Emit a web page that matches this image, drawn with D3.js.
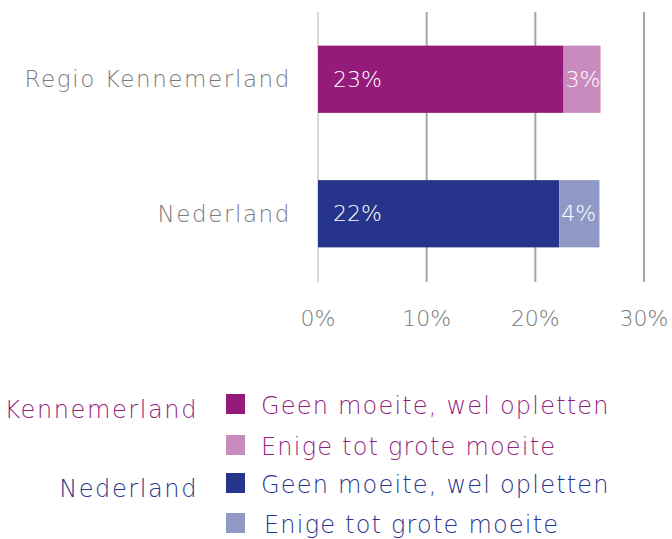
<!DOCTYPE html>
<html>
<head>
<meta charset="utf-8">
<script src="https://cdn.jsdelivr.net/npm/d3@7"></script>
<style>
  body { margin: 0; background: #fff; }
  svg text { font-family: "DejaVu Sans", sans-serif; font-weight: 200; }
</style>
</head>
<body>
<div id="chart"></div>
<script>
const categories = ["Regio Kennemerland", "Nederland"];
const geenMoeite = [22.6, 22.2];
const enigeMoeite = [3.4, 3.7];
const xTicks = [0, 10, 20, 30];

const legendGroups = ["Kennemerland", "Nederland"];
const legendItems = ["Geen moeite, wel opletten", "Enige tot grote moeite"];

const width = 672, height = 539;
const colors = [["#951b7b", "#c98bbd"], ["#27348b", "#9099c6"]];
const textColors = ["#931f7d", "#27348b"];

const svg = d3.select("#chart")
    .append("svg")
    .attr("width", width)
    .attr("height", height);

const x = d3.scaleLinear().domain([0, 30]).range([318, 644]);
const y = d3.scaleBand().domain(categories).range([12, 281])
    .paddingInner(0.5).paddingOuter(0.25);

// gridlines
svg.append("g").selectAll("line")
    .data(xTicks)
    .enter().append("line")
    .attr("x1", d => x(d)).attr("x2", d => x(d))
    .attr("y1", 12).attr("y2", 282)
    .attr("stroke", d => d == 0 ? "#d9d9d9" : "#a6a6a6")
    .attr("stroke-width", 2);

// tick labels
svg.append("g").selectAll("text")
    .data(xTicks)
    .enter().append("text")
    .attr("x", d => x(d))
    .attr("y", 326)
    .attr("text-anchor", "middle")
    .style("font-size", "22px")
    .style("fill", "#7a7a7a")
    .text(d => d + "%");

// category labels
svg.append("g").selectAll("text")
    .data(categories)
    .enter().append("text")
    .attr("x", 291)
    .attr("y", d => y(d) + y.bandwidth() / 2)
    .attr("dy", "0.35em")
    .attr("text-anchor", "end")
    .style("font-size", "23px")
    .style("letter-spacing", "1.6px")
    .style("fill", "#7a7a7a")
    .text(d => d);

// stacked bars
categories.forEach((c, i) => {
    const segs = [
        { x0: 0, x1: geenMoeite[i], color: colors[i][0], label: Math.round(geenMoeite[i]) + "%", pad: 15 },
        { x0: geenMoeite[i], x1: geenMoeite[i] + enigeMoeite[i], color: colors[i][1], label: Math.round(enigeMoeite[i]) + "%", pad: 2 }
    ];
    const g = svg.append("g");
    g.selectAll("rect")
        .data(segs)
        .enter().append("rect")
        .attr("x", d => x(d.x0))
        .attr("width", d => x(d.x1) - x(d.x0))
        .attr("y", y(c))
        .attr("height", y.bandwidth())
        .attr("fill", d => d.color);
    g.selectAll("text")
        .data(segs)
        .enter().append("text")
        .attr("x", d => x(d.x0) + d.pad)
        .attr("y", y(c) + y.bandwidth() / 2)
        .attr("dy", "0.35em")
        .style("font-size", "22px")
        .style("fill", "#fff")
        .text(d => d.label);
});

// legend
const legendTop = [404, 445, 483, 523];
legendGroups.forEach((grp, gi) => {
    svg.append("text")
        .attr("x", 198)
        .attr("y", legendTop[gi * 2] + 6)
        .attr("dy", "0.35em")
        .attr("text-anchor", "end")
        .style("font-size", "24px")
        .style("letter-spacing", "1.6px")
        .style("fill", textColors[gi])
        .text(grp);
    legendItems.forEach((item, ii) => {
        const cy = legendTop[gi * 2 + ii];
        svg.append("rect")
            .attr("x", 226).attr("y", cy - 10)
            .attr("width", 19).attr("height", 20)
            .attr("fill", colors[gi][ii]);
        svg.append("text")
            .attr("x", 261 + (gi == 1 && ii == 1 ? 3 : 0))
            .attr("y", cy + 2)
            .attr("dy", "0.35em")
            .style("font-size", "24px")
            .style("letter-spacing", "1.2px")
            .style("fill", textColors[gi])
            .text(item);
    });
});
</script>
</body>
</html>
